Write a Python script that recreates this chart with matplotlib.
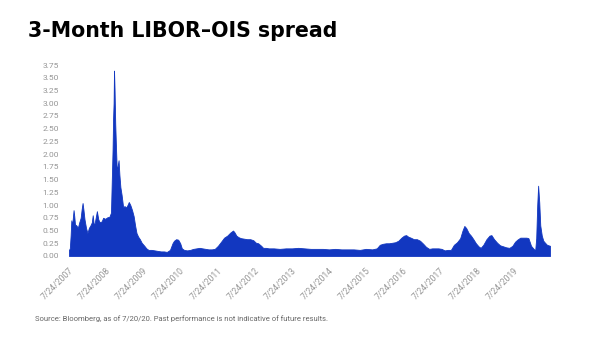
import pandas as pd
import matplotlib.pyplot as plt

# LIBOR-OIS spread (percentage points)
dates = [
    "2007-07-24", "2007-08-01", "2007-08-09", "2007-08-16", "2007-08-24", "2007-08-31",
    "2007-09-07", "2007-09-14", "2007-09-21", "2007-10-05", "2007-10-19", "2007-11-02",
    "2007-11-16", "2007-11-26", "2007-12-05", "2007-12-14", "2007-12-24", "2008-01-08",
    "2008-01-22", "2008-02-05", "2008-02-20", "2008-03-05", "2008-03-14", "2008-03-24",
    "2008-04-02", "2008-04-15", "2008-04-24", "2008-05-08", "2008-05-22", "2008-06-10",
    "2008-06-25", "2008-07-15", "2008-08-05", "2008-08-25", "2008-09-10", "2008-09-17",
    "2008-09-26", "2008-10-01", "2008-10-06", "2008-10-10", "2008-10-15", "2008-10-22",
    "2008-10-30", "2008-11-06", "2008-11-14", "2008-11-24", "2008-12-02", "2008-12-12",
    "2008-12-24", "2009-01-08", "2009-01-22", "2009-02-05", "2009-02-20", "2009-03-05",
    "2009-03-20", "2009-04-06", "2009-04-22", "2009-05-06", "2009-05-20", "2009-06-05",
    "2009-06-22", "2009-07-10", "2009-08-05", "2009-08-25", "2009-09-15", "2009-10-15",
    "2009-11-15", "2009-12-15", "2010-01-15", "2010-02-15", "2010-03-15", "2010-04-15",
    "2010-05-10", "2010-05-25", "2010-06-15", "2010-07-05", "2010-07-25", "2010-08-10",
    "2010-09-01", "2010-10-01", "2010-11-01", "2010-12-01", "2011-01-01", "2011-02-01",
    "2011-03-01", "2011-04-01", "2011-05-01", "2011-06-01", "2011-07-01", "2011-08-01",
    "2011-09-01", "2011-10-01", "2011-11-01", "2011-12-01", "2011-12-28", "2012-01-10",
    "2012-01-30", "2012-02-20", "2012-03-15", "2012-04-15", "2012-05-15", "2012-06-15",
    "2012-07-15", "2012-08-10", "2012-09-01", "2012-10-01", "2012-10-20", "2012-11-15",
    "2012-12-15", "2013-02-01", "2013-04-01", "2013-06-01", "2013-08-01", "2013-10-01",
    "2013-12-01", "2014-02-01", "2014-04-01", "2014-06-01", "2014-08-01", "2014-10-01",
    "2014-12-01", "2015-02-01", "2015-04-01", "2015-06-01", "2015-08-01", "2015-10-01",
    "2015-11-15", "2015-12-15", "2016-01-15", "2016-02-15", "2016-03-15", "2016-04-15",
    "2016-05-15", "2016-06-15", "2016-07-15", "2016-08-10", "2016-08-31", "2016-09-20",
    "2016-10-15", "2016-11-15", "2016-12-15", "2017-01-15", "2017-02-15", "2017-03-15",
    "2017-04-15", "2017-05-15", "2017-06-15", "2017-07-15", "2017-08-15", "2017-09-15",
    "2017-10-15", "2017-11-15", "2017-12-15", "2018-01-15", "2018-02-15", "2018-03-10",
    "2018-03-28", "2018-04-15", "2018-05-10", "2018-06-01", "2018-06-25", "2018-07-20",
    "2018-08-15", "2018-09-05", "2018-10-01", "2018-11-01", "2018-12-01", "2018-12-20",
    "2019-01-15", "2019-02-15", "2019-03-15", "2019-04-15", "2019-05-15", "2019-06-15",
    "2019-07-15", "2019-08-10", "2019-09-01", "2019-10-01", "2019-11-01", "2019-12-01",
    "2019-12-20", "2020-01-15", "2020-02-05", "2020-02-25", "2020-03-06", "2020-03-16",
    "2020-03-25", "2020-04-05", "2020-04-15", "2020-04-30", "2020-05-15", "2020-06-01",
    "2020-06-20", "2020-07-20",
]
spread = [
    0.12, 0.15, 0.40, 0.70, 0.60, 0.75,
    0.90, 0.78, 0.62, 0.60, 0.55, 0.66,
    0.75, 0.92, 1.04, 0.90, 0.72, 0.55,
    0.45, 0.55, 0.60, 0.66, 0.80, 0.62,
    0.64, 0.78, 0.88, 0.72, 0.66, 0.68,
    0.75, 0.73, 0.76, 0.77, 0.85, 1.40,
    2.10, 2.70, 3.00, 3.64, 3.30, 2.60,
    2.10, 1.70, 1.75, 1.88, 1.60, 1.35,
    1.20, 0.96, 0.98, 0.95, 1.00, 1.06,
    1.00, 0.90, 0.78, 0.60, 0.45, 0.38,
    0.33, 0.26, 0.20, 0.15, 0.12, 0.12,
    0.11, 0.10, 0.09, 0.09, 0.08, 0.12,
    0.25, 0.30, 0.33, 0.32, 0.25, 0.15,
    0.12, 0.11, 0.12, 0.14, 0.15, 0.16,
    0.15, 0.14, 0.13, 0.13, 0.14, 0.20,
    0.28, 0.36, 0.40, 0.46, 0.50, 0.47,
    0.40, 0.37, 0.35, 0.34, 0.33, 0.33,
    0.31, 0.26, 0.25, 0.20, 0.16, 0.16,
    0.15, 0.15, 0.14, 0.15, 0.15, 0.16,
    0.15, 0.14, 0.14, 0.14, 0.13, 0.14,
    0.13, 0.13, 0.13, 0.12, 0.14, 0.13,
    0.15, 0.22, 0.24, 0.25, 0.25, 0.26,
    0.27, 0.30, 0.36, 0.40, 0.41, 0.38,
    0.36, 0.33, 0.33, 0.30, 0.24, 0.18,
    0.14, 0.15, 0.15, 0.15, 0.14, 0.11,
    0.12, 0.12, 0.22, 0.27, 0.35, 0.50,
    0.59, 0.55, 0.45, 0.40, 0.33, 0.25,
    0.19, 0.16, 0.22, 0.33, 0.40, 0.41,
    0.33, 0.26, 0.21, 0.19, 0.17, 0.16,
    0.20, 0.28, 0.32, 0.36, 0.36, 0.36,
    0.35, 0.20, 0.15, 0.11, 0.35, 1.00,
    1.38, 1.05, 0.60, 0.40, 0.30, 0.26,
    0.22, 0.20,
]
tick_dates = ["2007-07-24", "2008-07-24", "2009-07-24", "2010-07-24", "2011-07-24",
              "2012-07-24", "2013-07-24", "2014-07-24", "2015-07-24", "2016-07-24",
              "2017-07-24", "2018-07-24", "2019-07-24"]
y_ticks = [0.0, 0.25, 0.5, 0.75, 1.0, 1.25, 1.5, 1.75, 2.0, 2.25, 2.5, 2.75, 3.0, 3.25, 3.5, 3.75]

x = pd.to_datetime(dates)
ticks = pd.to_datetime(tick_dates)

fig = plt.figure(figsize=(5.93, 3.61), dpi=100)
ax = fig.add_axes([69/593, 1 - 256/361, (550 - 69)/593, (256 - 65)/361])

ax.fill_between(x, spread, 0, color="#1237c0", lw=0.6, edgecolor="#1237c0")
ax.set_xlim(x[0], x[-1])
ax.set_ylim(0, 3.75)

ax.set_yticks(y_ticks)
ax.set_yticklabels([f"{v:.2f}" for v in y_ticks])
ax.set_xticks(ticks)
ax.set_xticklabels([f"{d.month}/{d.day}/{d.year}" for d in ticks],
                   rotation=45, ha="right", va="top", rotation_mode="anchor")

for s in ax.spines.values():
    s.set_visible(False)
ax.tick_params(axis="y", length=0, pad=7, labelsize=6, labelcolor="#959595")
ax.tick_params(axis="x", length=0, pad=7, labelsize=6.2, labelcolor="#959595")
for lab in ax.get_xticklabels() + ax.get_yticklabels():
    lab.set_family("Roboto")

fig.text(28/593, 1 - 37/361, "3-Month LIBOR\u2013OIS spread", fontsize=14.8,
         fontweight="bold", family="DejaVu Sans", va="baseline", ha="left")
fig.text(35/593, 1 - 319/361,
         "Source: Bloomberg, as of 7/20/20. Past performance is not indicative of future results.",
         fontsize=5.5, family="Roboto", color="#666666", va="center", ha="left")

fig.savefig("out.png", dpi=100)
